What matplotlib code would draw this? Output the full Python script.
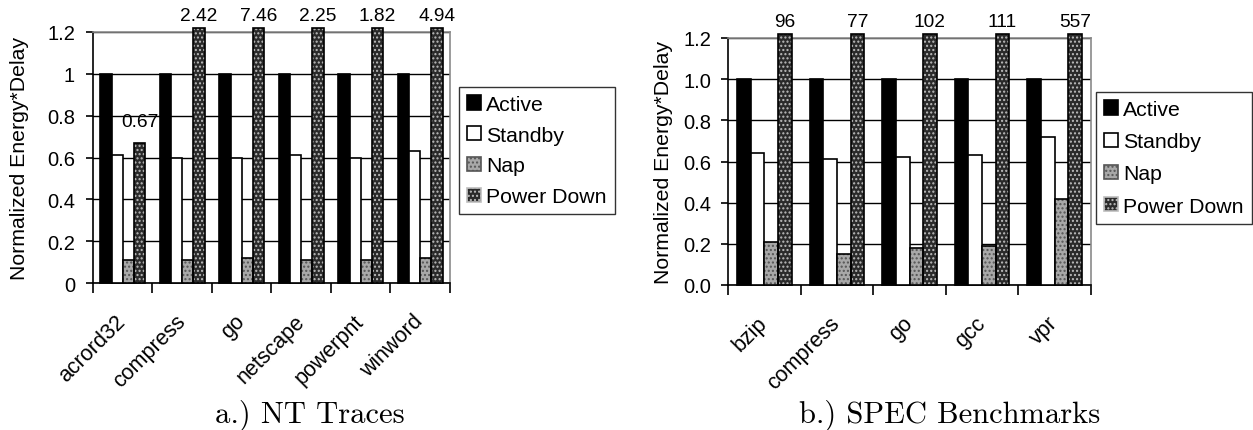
import numpy as np
import matplotlib
matplotlib.use("Agg")
import matplotlib.pyplot as plt
from matplotlib.patches import Patch
from matplotlib.transforms import ScaledTranslation

plt.rcParams['font.family'] = ['Liberation Sans', 'DejaVu Sans']
plt.rcParams['hatch.linewidth'] = 1.0

# datos - NT traces
nt_names = ["acrord32", "compress", "go", "netscape", "powerpnt", "winword"]
nt_active = [1, 1, 1, 1, 1, 1]
nt_standby = [0.61, 0.60, 0.60, 0.61, 0.60, 0.63]
nt_nap = [0.11, 0.11, 0.12, 0.11, 0.11, 0.12]
nt_pdown = [0.67, 2.42, 7.46, 2.25, 1.82, 4.94]
nt_pdown_txt = ["0.67", "2.42", "7.46", "2.25", "1.82", "4.94"]

# datos - SPEC
spec_names = ["bzip", "compress", "go", "gcc", "vpr"]
spec_active = [1, 1, 1, 1, 1]
spec_standby = [0.64, 0.61, 0.62, 0.63, 0.72]
spec_nap = [0.21, 0.15, 0.18, 0.19, 0.42]
spec_pdown = [96, 77, 102, 111, 557]
spec_pdown_txt = ["96", "77", "102", "111", "557"]

series = ["Active", "Standby", "Nap", "Power Down"]
# face, hatch, hatch colour
styles = [("black", None, "black"),
          ("white", None, "black"),
          ("#a8a8a8", "....", "#555555"),
          ("#2a2a2a", "....", "#bdbdbd")]

FS_TICK = 14.5
FS_LAB = 15.3
FS_VAL = 13.8
FS_X = 15.5
YMAX = 1.2

fig = plt.figure(figsize=(12.53, 4.31), dpi=100)


def draw_panel(ax, names, data, labels, yfmt, ylab_x, ypad):
    n = len(names)
    x = np.arange(n)
    w = 0.1875
    for i, vals in enumerate(data):
        face, hatch, hcol = styles[i]
        pos = x + 0.125 + w * i + w / 2
        h = np.minimum(np.array(vals, dtype=float), YMAX + 0.02)
        if hatch:
            ax.bar(pos, h, w, color=face, hatch=hatch, edgecolor=hcol,
                   linewidth=0, clip_on=False, zorder=3)
            ax.bar(pos, h, w, fill=False, edgecolor="black", linewidth=1.2,
                   clip_on=False, zorder=4)
        else:
            ax.bar(pos, h, w, color=face, edgecolor="black", linewidth=1.2,
                   clip_on=False, zorder=3)
    # etiquetas de power down
    pos = x + 0.125 + w * 3 + w / 2
    for p, v, t in zip(pos, data[3], labels):
        if v > YMAX:
            ax.annotate(t, (p, YMAX), xytext=(0, 6), textcoords="offset points",
                        ha="center", va="bottom", fontsize=FS_VAL)
        else:
            ax.annotate(t, (p, v), xytext=(0, 9), textcoords="offset points",
                        ha="center", va="bottom", fontsize=FS_VAL)

    ax.set_xlim(0, n)
    ax.set_ylim(0, YMAX)
    ax.set_yticks(np.arange(0, 1.21, 0.2))
    ax.set_yticklabels([yfmt(v) for v in np.arange(0, 1.21, 0.2)], fontsize=FS_TICK)
    ax.yaxis.grid(True, color="black", linewidth=1.0, zorder=0)
    ax.set_axisbelow(True)
    ax.set_xticks(np.arange(0, n + 1))
    ax.set_xticklabels([])
    ax.set_xticks(x + 0.5, minor=True)
    ax.set_xticklabels(names, minor=True, rotation=45, ha="right", va="center",
                       rotation_mode="anchor", fontsize=FS_X)
    off = ScaledTranslation(-14 / 100, 0, fig.dpi_scale_trans)
    for lab in ax.get_xticklabels(minor=True):
        lab.set_transform(lab.get_transform() + off)
    ax.tick_params(axis="x", which="major", direction="out", length=7, width=1.2)
    ax.tick_params(axis="x", which="minor", length=0, pad=25)
    ax.tick_params(axis="y", direction="out", length=5, width=1.2, pad=ypad)
    for s in ["top", "right"]:
        ax.spines[s].set_color("#8a8a8a")
        ax.spines[s].set_linewidth(1.2)
    for s in ["left", "bottom"]:
        ax.spines[s].set_linewidth(1.2)
    ax.set_ylabel("Normalized Energy*Delay", fontsize=FS_LAB)
    ax.yaxis.set_label_coords(ylab_x, 0.5)


def fmt_a(v):
    return "%g" % round(v, 1)


def fmt_b(v):
    return "%.1f" % v


ax1 = fig.add_axes([93 / 1253, 1 - 284 / 431, 357 / 1253, 251 / 431])
draw_panel(ax1, nt_names, [nt_active, nt_standby, nt_nap, nt_pdown], nt_pdown_txt,
           fmt_a, (29 - 93) / 357, 8)

ax2 = fig.add_axes([728 / 1253, 1 - 286 / 431, 363 / 1253, 247 / 431])
draw_panel(ax2, spec_names, [spec_active, spec_standby, spec_nap, spec_pdown], spec_pdown_txt,
           fmt_b, (673 - 728) / 363, 7)

handles = []
for (face, hatch, hcol), name in zip(styles, series):
    handles.append(Patch(facecolor=face, hatch=hatch,
                         edgecolor="black" if hatch is None else hcol,
                         linewidth=1.2, label=name))

for bx, by, sp in [(459, 88, 0.55), (1096, 93, 0.62)]:
    fig.legend(handles=handles, loc="upper left",
               bbox_to_anchor=(bx / 1253, 1 - by / 431), fontsize=FS_LAB,
               frameon=True, fancybox=False, edgecolor="black",
               handlelength=0.66, handleheight=0.66, handletextpad=0.25,
               labelspacing=sp, borderpad=0.38, borderaxespad=0)

fig.text(310 / 1253, 0.037, "a.) NT Traces", family="cmr10", fontsize=22,
         ha="center", va="center")
fig.text(950 / 1253, 0.037, "b.) SPEC Benchmarks", family="cmr10", fontsize=22,
         ha="center", va="center")

fig.savefig("out.png", dpi=100)
